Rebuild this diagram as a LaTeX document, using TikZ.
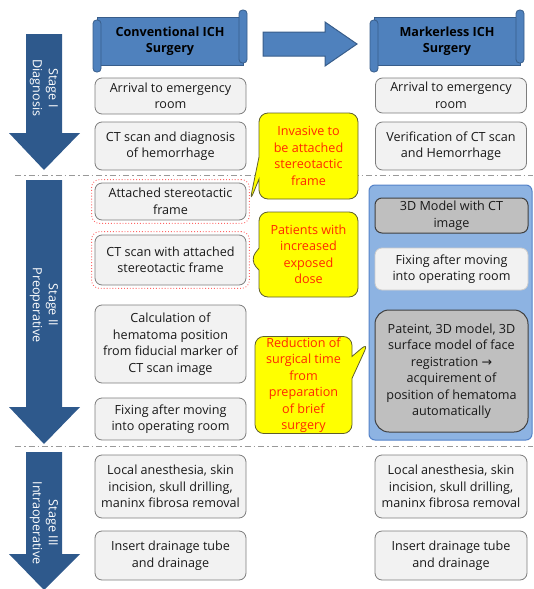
\documentclass[tikz,border=0pt]{standalone}
\usepackage{fontspec}
\setmainfont{Open Sans}
\newfontfamily\symfont{DejaVu Sans}
\usetikzlibrary{shapes.callouts,fit}

\definecolor{stageblue}{RGB}{46,89,140}
\definecolor{bannerblue}{RGB}{79,129,189}
\definecolor{bannerline}{RGB}{56,93,138}
\definecolor{boxfill}{RGB}{242,242,242}
\definecolor{boxline}{RGB}{125,125,125}
\definecolor{panelfill}{RGB}{141,179,226}
\definecolor{panelline}{RGB}{84,130,200}
\definecolor{notefill}{RGB}{255,255,0}
\definecolor{noteline}{RGB}{95,95,45}
\definecolor{notetext}{RGB}{255,40,0}

\tikzset{
  procbox/.style={draw=boxline,fill=boxfill,rounded corners=7pt,line width=0.8pt,
    align=center,minimum width=151,inner sep=1pt,text=black!90,
    font=\fontsize{12.6}{16.5}\selectfont},
  graybox/.style={procbox,draw=black!75,fill=black!25,line width=1pt},
  reddot/.style={draw=red!60,dotted,line width=0.9pt,rounded corners=8pt,inner sep=3pt},
  note/.style={rectangle callout,draw=noteline,fill=notefill,rounded corners=9pt,
    line width=0.8pt,align=center,text=notetext,inner sep=1pt,
    callout pointer width=22pt,font=\fontsize{12.6}{16.5}\selectfont},
  banner/.style={draw=bannerline,fill=bannerblue,line width=0.8pt},
  bannertext/.style={align=center,font=\bfseries\fontsize{12.6}{16.5}\selectfont},
  stagetext/.style={align=center,text=white,rotate=-90,
    font=\fontsize{12.6}{16}\selectfont},
  sepline/.style={draw=black!40,line width=1pt,dash pattern=on 6pt off 3pt on 1.5pt off 3pt}
}

\begin{document}
\begin{tikzpicture}[x=1pt,y=-1pt]
\useasboundingbox (0,0) rectangle (533,589);

% stage arrows
\foreach \t/\n/\p in {34/133/170,180/407/444,452/554/590}
  \fill[stageblue] (26,\t) -- (62,\t) -- (62,\n) -- (80,\n) -- (44,\p) -- (9,\n) -- (26,\n) -- cycle;
\node[stagetext] (s1) at (44,88) {Stage I\\Diagnosis};
\node[stagetext] (s2) at (44,305) {Stage II\\Preoperative};
\node[stagetext] (s3) at (44,523) {Stage III\\Intraoperative};

\draw[sepline] (15,175) -- (533,175);
\draw[sepline] (15,446) -- (533,446);

% banners
\draw[banner] (97,17) rectangle (243,65);
\draw[banner,rounded corners=3.5pt] (93,20) rectangle (101,72);
\draw[banner,rounded corners=3.5pt] (239,10) rectangle (247,63);
\node[bannertext] (conv) at (170,41) {Conventional ICH\\Surgery};
\draw[banner] (374,17) rectangle (520,65);
\draw[banner,rounded corners=3.5pt] (370,20) rectangle (378,72);
\draw[banner,rounded corners=3.5pt] (516,10) rectangle (524,63);
\node[bannertext] (mless) at (447,41) {Markerless ICH\\Surgery};
\draw[banner,line width=1pt] (263,32) -- (325,32) -- (325,22) -- (357,44)
  -- (325,66) -- (325,56) -- (263,56) -- cycle;

% conventional
\node[procbox,minimum height=36] (c1) at (170.5,96) {Arrival to emergency\\room};
\node[procbox,minimum height=48] (c2) at (170.5,146) {CT scan and diagnosis\\of hemorrhage};
\node[procbox,minimum height=37] (c3) at (170.5,201.5) {Attached stereotactic\\frame};
\node[procbox,minimum height=50] (c4) at (170.5,260) {CT scan with attached\\stereotactic frame};
\node[procbox,minimum height=78] (c5) at (170.5,344) {Calculation of\\hematoma position\\from fiducial marker of\\CT scan image};
\node[procbox,minimum height=42] (c6) at (170.5,419) {Fixing after moving\\into operating room};
\node[procbox,minimum height=63] (c7) at (170.5,486.5) {Local anesthesia, skin\\incision, skull drilling,\\maninx fibrosa removal};
\node[procbox,minimum height=49] (c8) at (170.5,555.5) {Insert drainage tube\\and drainage};
\node[reddot,fit=(c3)] (r3) {};
\node[reddot,fit=(c4)] (r4) {};

% markerless
\node[procbox,minimum height=35] (m1) at (451,95.5) {Arrival to emergency\\room};
\node[procbox,minimum height=48] (m2) at (451,146) {Verification of CT scan\\and Hemorrhage};
\node[draw=panelline,fill=panelfill,line width=1pt,rounded corners=6pt,
  minimum width=163,minimum height=255] (panel) at (450.5,312.5) {};
\node[graybox,minimum height=35,minimum width=153] (m3) at (451.5,215.5) {3D Model with CT\\image};
\node[procbox,draw=black!20,minimum height=42,minimum width=153] (m4) at (451.5,269) {Fixing after moving\\into operating room};
\node[graybox,minimum height=122,minimum width=153,rounded corners=14pt] (m5) at (451.5,371)
  {Pateint, 3D model, 3D\\surface model of face\\registration {\symfont\textrightarrow}\\acquirement of\\position of hematoma\\automatically};
\node[procbox,minimum height=63,minimum width=152] (m6) at (451,486.5) {Local anesthesia, skin\\incision, skull drilling,\\maninx fibrosa removal};
\node[procbox,minimum height=49,minimum width=152] (m7) at (451,555.5) {Insert drainage tube\\and drainage};

% notes
\node[note,minimum width=99,minimum height=86,callout absolute pointer={(r3.east)}]
  (n1) at (308.5,156) {Invasive to\\be attached\\stereotactic\\frame};
\node[note,minimum width=99,minimum height=85,callout absolute pointer={(r4.east)}]
  (n2) at (308.5,254.5) {Patients with\\increased\\exposed\\dose};
\node[note,minimum width=97,minimum height=96,callout absolute pointer={([yshift=-30pt]panel.west)}]
  (n3) at (303.5,385) {Reduction of\\surgical time\\from\\preparation\\of brief\\surgery};
\end{tikzpicture}
\end{document}
